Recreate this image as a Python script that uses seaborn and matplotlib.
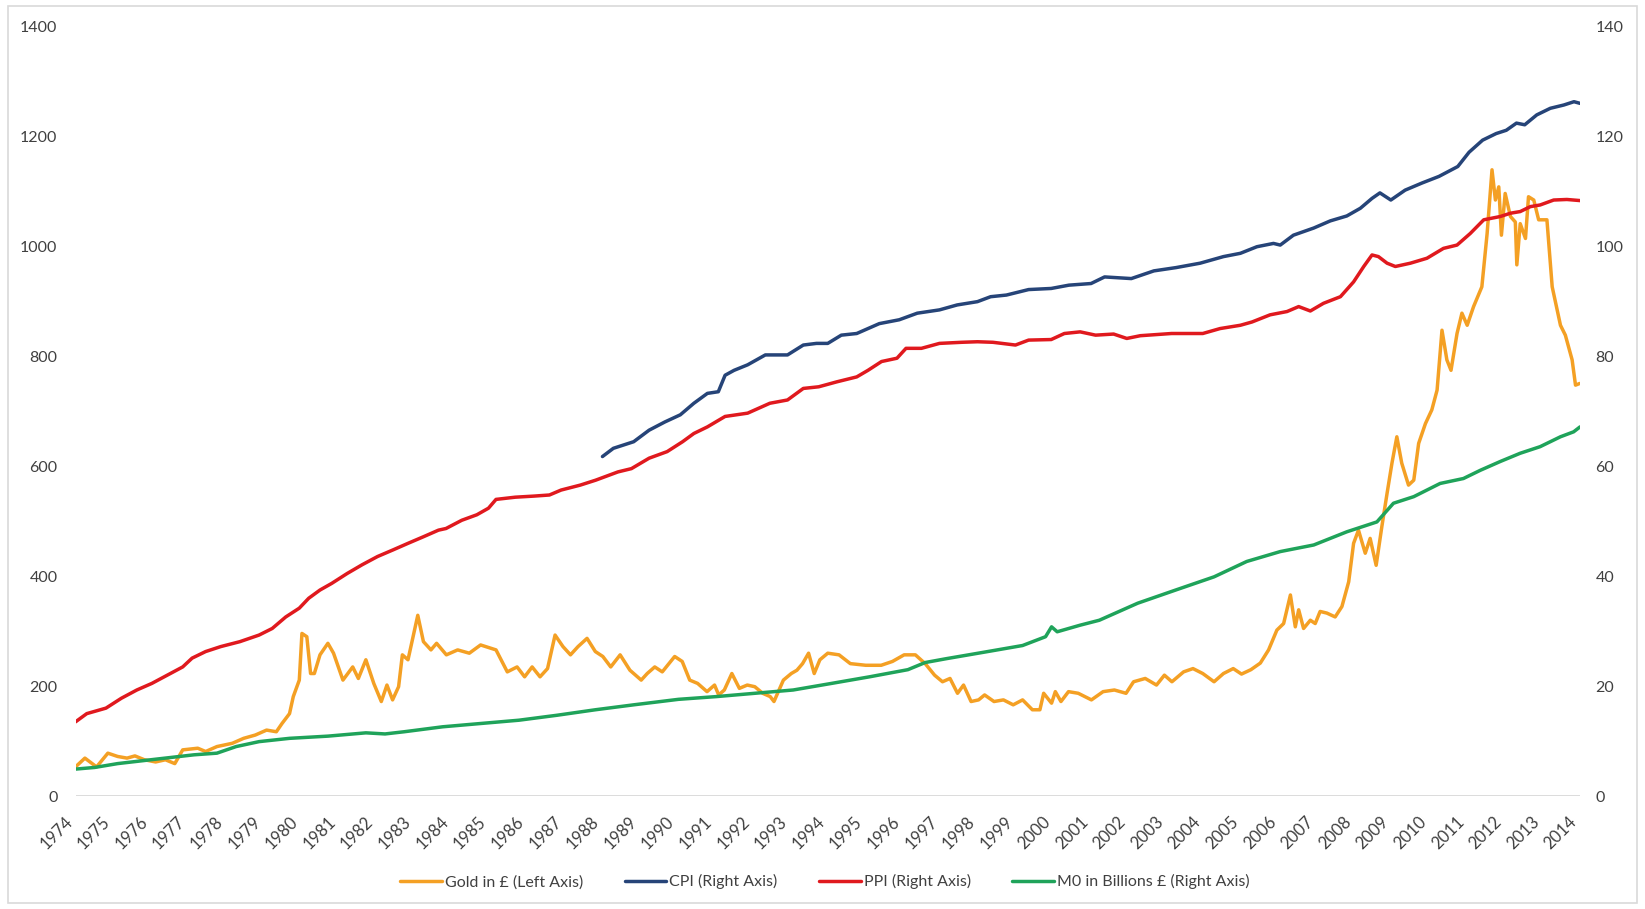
import numpy as np
import pandas as pd
import matplotlib
matplotlib.use("Agg")
import matplotlib.pyplot as plt
from matplotlib.patches import Rectangle
import seaborn as sns

# -- values --
gold_years = [1974.0, 1974.25, 1974.56, 1974.86, 1975.12, 1975.37, 1975.58, 1975.83, 1976.13, 1976.39,
              1976.64, 1976.85, 1977.25, 1977.46, 1977.76, 1978.17, 1978.47, 1978.78, 1979.08, 1979.34,
              1979.49, 1979.69, 1979.79, 1979.95, 1980.02, 1980.15, 1980.25, 1980.35, 1980.5, 1980.71,
              1980.86, 1981.11, 1981.37, 1981.52, 1981.72, 1981.93, 1982.13, 1982.28, 1982.43, 1982.59,
              1982.69, 1982.84, 1983.1, 1983.25, 1983.45, 1983.6, 1983.86, 1984.16, 1984.47, 1984.77,
              1985.18, 1985.48, 1985.74, 1985.94, 1986.14, 1986.35, 1986.55, 1986.75, 1986.96, 1987.16,
              1987.36, 1987.6, 1987.82, 1988.02, 1988.23, 1988.48, 1988.74, 1989.04, 1989.2, 1989.4,
              1989.6, 1989.93, 1990.13, 1990.33, 1990.54, 1990.79, 1990.99, 1991.1, 1991.25, 1991.45,
              1991.65, 1991.86, 1992.06, 1992.27, 1992.47, 1992.57, 1992.82, 1993.03, 1993.18, 1993.33,
              1993.49, 1993.64, 1993.79, 1994.0, 1994.3, 1994.6, 1995.01, 1995.42, 1995.72, 1996.03,
              1996.33, 1996.59, 1996.84, 1997.05, 1997.25, 1997.45, 1997.61, 1997.81, 1998.01, 1998.17,
              1998.42, 1998.67, 1998.93, 1999.18, 1999.44, 1999.64, 1999.74, 1999.95, 2000.05, 2000.2,
              2000.4, 2000.66, 2001.01, 2001.32, 2001.62, 2001.93, 2002.13, 2002.44, 2002.74, 2002.95,
              2003.15, 2003.46, 2003.71, 2003.97, 2004.27, 2004.52, 2004.78, 2005.0, 2005.25, 2005.5,
              2005.72, 2005.94, 2006.12, 2006.3, 2006.43, 2006.52, 2006.65, 2006.83, 2006.96, 2007.09,
              2007.27, 2007.49, 2007.67, 2007.85, 2007.98, 2008.11, 2008.29, 2008.42, 2008.58, 2008.73,
              2008.87, 2009.0, 2009.13, 2009.26, 2009.44, 2009.58, 2009.71, 2009.89, 2010.06, 2010.2,
              2010.33, 2010.46, 2010.57, 2010.73, 2010.86, 2011.0, 2011.17, 2011.39, 2011.53, 2011.66,
              2011.75, 2011.84, 2011.91, 2012.01, 2012.15, 2012.28, 2012.32, 2012.41, 2012.55, 2012.63,
              2012.77, 2012.9, 2013.12, 2013.26, 2013.48, 2013.61, 2013.79, 2013.88, 2013.99]
gold_gbp = [53, 69, 53, 78, 72, 69, 73, 66, 62, 66,
            59, 84, 87, 81, 90, 96, 105, 111, 120, 117,
            132, 150, 181, 211, 296, 290, 223, 223, 257, 278,
            260, 211, 235, 214, 248, 205, 172, 202, 175, 199,
            257, 248, 329, 281, 266, 278, 257, 266, 260, 275,
            266, 226, 235, 217, 235, 217, 232, 293, 272, 257,
            272, 287, 263, 254, 235, 257, 229, 211, 223, 235,
            226, 254, 245, 211, 205, 190, 202, 184, 193, 223,
            196, 202, 199, 187, 181, 172, 211, 223, 229, 241,
            260, 223, 248, 260, 257, 241, 238, 238, 245, 257,
            257, 241, 220, 208, 214, 187, 202, 172, 175, 184,
            172, 175, 166, 175, 157, 157, 187, 169, 190, 172,
            190, 187, 175, 190, 193, 187, 208, 214, 202, 220,
            208, 226, 232, 223, 208, 223, 232, 222, 230, 242,
            266, 302, 314, 366, 308, 339, 305, 320, 314, 336,
            333, 326, 345, 390, 460, 484, 442, 469, 420, 490,
            551, 606, 654, 606, 566, 575, 642, 678, 703, 739,
            848, 794, 775, 842, 879, 857, 891, 927, 1024, 1140,
            1085, 1109, 1021, 1097, 1055, 1045, 967, 1042, 1015, 1091,
            1085, 1049, 1049, 927, 857, 839, 794, 748, 751]

cpi_years = [1988.01, 1988.3, 1988.84, 1989.25, 1989.67, 1990.08, 1990.44, 1990.8, 1991.09, 1991.27,
             1991.51, 1991.87, 1992.34, 1992.93, 1993.35, 1993.7, 1994.0, 1994.36, 1994.77, 1995.37,
             1995.9, 1996.38, 1996.97, 1997.44, 1997.98, 1998.33, 1998.75, 1999.34, 1999.94, 2000.41,
             2001.0, 2001.36, 2002.07, 2002.67, 2003.26, 2003.9, 2004.52, 2004.97, 2005.41, 2005.85,
             2006.03, 2006.38, 2006.92, 2007.36, 2007.8, 2008.16, 2008.47, 2008.68, 2008.97, 2009.35,
             2009.8, 2010.25, 2010.75, 2011.05, 2011.41, 2011.77, 2012.04, 2012.31, 2012.53, 2012.85,
             2013.21, 2013.57, 2013.84, 2014.0]
cpi = [61.8, 63.3, 64.5, 66.6, 68.1, 69.4, 71.5, 73.3, 73.6, 76.6,
       77.5, 78.5, 80.3, 80.3, 82.1, 82.4, 82.4, 83.9, 84.2, 86.0,
       86.7, 87.9, 88.5, 89.4, 90.0, 90.9, 91.2, 92.2, 92.4, 93.0,
       93.3, 94.5, 94.2, 95.6, 96.2, 97.0, 98.2, 98.8, 100.0, 100.6,
       100.3, 102.1, 103.4, 104.7, 105.6, 107.0, 108.8, 109.8, 108.5, 110.3,
       111.6, 112.8, 114.6, 117.2, 119.4, 120.6, 121.2, 122.5, 122.2, 124.0,
       125.2, 125.8, 126.4, 126.1]

ppi_years = [1974.0, 1974.3, 1974.81, 1975.22, 1975.63, 1976.03, 1976.44, 1976.85, 1977.1, 1977.46,
             1977.86, 1978.37, 1978.88, 1979.23, 1979.59, 1979.95, 1980.2, 1980.5, 1980.81, 1981.22,
             1981.62, 1982.03, 1982.44, 1982.84, 1983.25, 1983.65, 1983.85, 1984.27, 1984.67, 1984.98,
             1985.18, 1985.69, 1986.19, 1986.6, 1986.91, 1987.42, 1987.83, 1988.42, 1988.78, 1989.25,
             1989.73, 1990.14, 1990.44, 1990.8, 1991.27, 1991.87, 1992.46, 1992.93, 1993.35, 1993.76,
             1994.24, 1994.77, 1995.07, 1995.43, 1995.84, 1996.08, 1996.49, 1996.97, 1997.56, 1997.98,
             1998.39, 1998.99, 1999.34, 1999.94, 2000.29, 2000.71, 2001.12, 2001.6, 2001.95, 2002.31,
             2003.14, 2003.97, 2004.43, 2004.97, 2005.28, 2005.76, 2006.21, 2006.52, 2006.83, 2007.18,
             2007.63, 2007.98, 2008.25, 2008.47, 2008.64, 2008.87, 2009.09, 2009.49, 2009.93, 2010.37,
             2010.73, 2011.08, 2011.44, 2011.88, 2012.15, 2012.41, 2012.68, 2012.94, 2013.3, 2013.65,
             2014.0]
ppi = [13.5, 15.0, 16.0, 17.8, 19.3, 20.5, 22.0, 23.5, 25.1, 26.3,
       27.2, 28.1, 29.3, 30.5, 32.6, 34.2, 36.0, 37.5, 38.7, 40.5,
       42.1, 43.6, 44.8, 46.0, 47.2, 48.4, 48.7, 50.2, 51.2, 52.4,
       54.0, 54.4, 54.6, 54.8, 55.7, 56.6, 57.5, 59.0, 59.6, 61.5,
       62.7, 64.5, 66.0, 67.2, 69.1, 69.7, 71.5, 72.1, 74.2, 74.5,
       75.4, 76.3, 77.5, 79.1, 79.7, 81.5, 81.5, 82.4, 82.6, 82.7,
       82.6, 82.1, 83.0, 83.1, 84.2, 84.5, 83.9, 84.1, 83.3, 83.8,
       84.2, 84.2, 85.1, 85.7, 86.3, 87.6, 88.2, 89.1, 88.3, 89.7,
       90.9, 93.6, 96.4, 98.5, 98.2, 97.0, 96.4, 97.0, 97.9, 99.7,
       100.3, 102.4, 104.9, 105.5, 106.1, 106.4, 107.3, 107.6, 108.5, 108.6,
       108.4]

m0_years = [1974.0, 1974.51, 1975.12, 1976.13, 1977.15, 1977.76, 1978.27, 1978.88, 1979.69, 1980.71,
            1981.72, 1982.23, 1982.74, 1983.76, 1984.77, 1985.79, 1986.8, 1987.82, 1988.84, 1990.03,
            1991.04, 1992.06, 1993.08, 1994.1, 1995.11, 1996.13, 1996.59, 1997.15, 1998.17, 1999.18,
            1999.79, 1999.95, 2000.1, 2000.71, 2001.22, 2002.24, 2003.25, 2004.27, 2005.14, 2006.03,
            2006.92, 2007.8, 2008.6, 2009.04, 2009.58, 2010.28, 2010.9, 2011.35, 2011.88, 2012.41,
            2012.94, 2013.48, 2013.83, 2014.0]
m0_bn = [4.9, 5.2, 5.9, 6.7, 7.5, 7.8, 9.0, 9.9, 10.5, 10.9,
         11.5, 11.3, 11.7, 12.6, 13.2, 13.8, 14.7, 15.7, 16.6, 17.6,
         18.1, 18.7, 19.3, 20.5, 21.7, 23.0, 24.3, 25.0, 26.2, 27.4,
         29.0, 30.8, 29.9, 31.1, 32.0, 35.1, 37.5, 39.9, 42.7, 44.5,
         45.7, 48.1, 49.9, 53.3, 54.5, 56.9, 57.8, 59.3, 60.9, 62.4,
         63.6, 65.4, 66.3, 67.2]

tick_years = list(range(1974, 2015))
labels = ["Gold in £ (Left Axis)", "CPI (Right Axis)", "PPI (Right Axis)", "M0 in Billions £ (Right Axis)"]
colors = ["#F4A024", "#264478", "#E0191E", "#1FA35A"]

# -- style --
sns.set_theme(style="white")
plt.rcParams['font.family'] = ['Lato', 'DejaVu Sans']
text_col = "#404040"

fig = plt.figure(figsize=(16.45, 9.09), dpi=100)
ax = fig.add_axes([0.0459, 0.1243, 0.9146, 0.846])
ax2 = ax.twinx()

lw = 2.5
sns.lineplot(x=gold_years, y=gold_gbp, ax=ax, color=colors[0], linewidth=lw, label=labels[0], legend=False)
sns.lineplot(x=cpi_years, y=cpi, ax=ax2, color=colors[1], linewidth=lw, label=labels[1], legend=False)
sns.lineplot(x=ppi_years, y=ppi, ax=ax2, color=colors[2], linewidth=lw, label=labels[2], legend=False)
sns.lineplot(x=m0_years, y=m0_bn, ax=ax2, color=colors[3], linewidth=lw, label=labels[3], legend=False)

ax.set_xlim(1974, 2014)
ax.set_ylim(0, 1400)
ax2.set_ylim(0, 140)
ax.set_yticks(range(0, 1401, 200))
ax2.set_yticks(range(0, 141, 20))
ax.set_xticks(tick_years)
ax.set_xticklabels([str(y) for y in tick_years], rotation=45, ha='right', va='top')

for a in (ax, ax2):
    for s in a.spines.values():
        s.set_visible(False)
    a.set_xlabel("")
    a.set_ylabel("")
    a.grid(False)
ax.axhline(0, color="#D9D9D9", linewidth=1.3, zorder=0)

ax.tick_params(axis='x', length=0, pad=13, labelsize=12, labelcolor=text_col)
ax.tick_params(axis='y', length=0, pad=13, labelsize=11.5, labelcolor=text_col)
ax2.tick_params(axis='y', length=0, pad=11, labelsize=11.5, labelcolor=text_col)

# legend for all four lines, bottom centre
handles = ax.get_lines()[:1] + ax2.get_lines()[:3]
fig.legend(handles, labels, loc='center', bbox_to_anchor=(0.5015, 0.030), ncol=4, frameon=False,
           fontsize=11.5, labelcolor=text_col, handlelength=2.6, handletextpad=0.2, columnspacing=2.6)

# light chart-area border like the spreadsheet export
fig.patches.append(Rectangle((8 / 1645, 6 / 909), 1629 / 1645, 897 / 909, transform=fig.transFigure,
                             fill=False, edgecolor="#D9D9D9", linewidth=1.2))

fig.savefig("out.png", dpi=100, facecolor="white")
